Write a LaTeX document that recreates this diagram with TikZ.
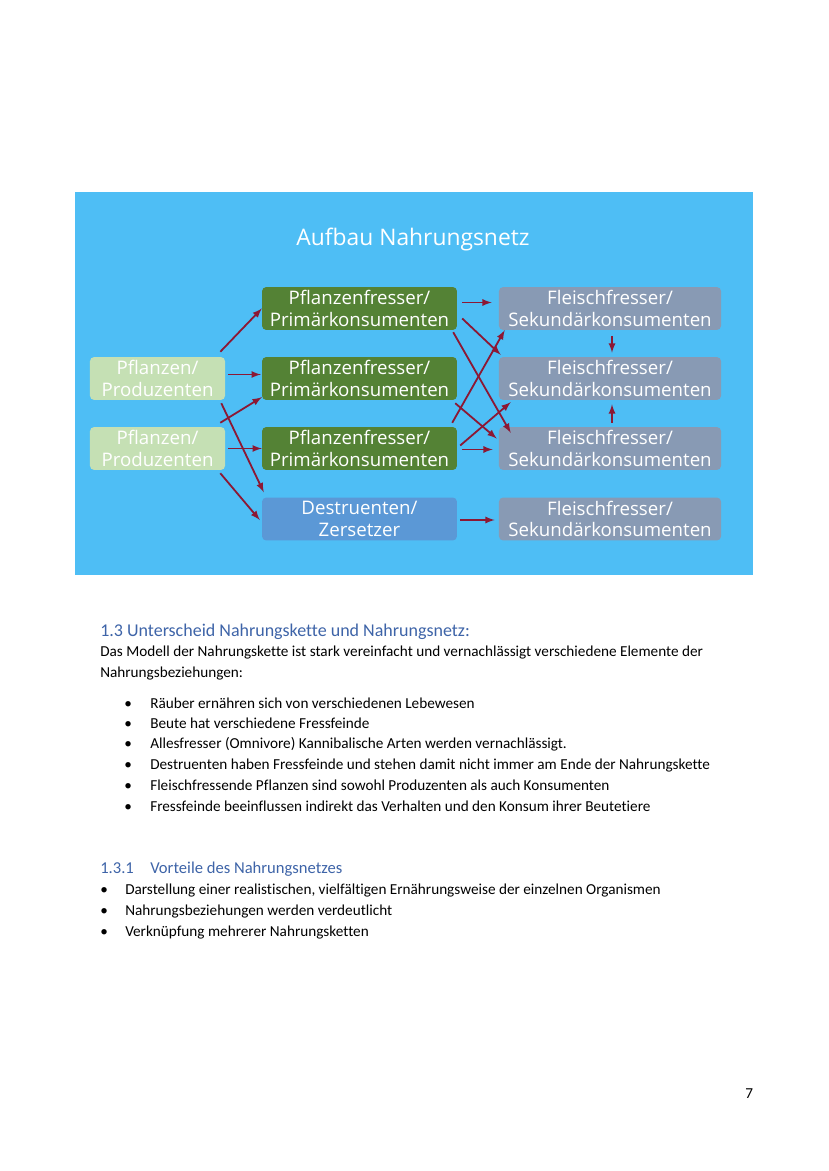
\documentclass[tikz,border=0pt]{standalone}
\usepackage{fontspec}
\setmainfont[Ligatures=NoCommon]{Carlito}
\newfontfamily\boxfont{Open Sans}
\usetikzlibrary{arrows, positioning, calc}

\definecolor{skyback}{RGB}{78,190,245}
\definecolor{producer}{RGB}{197,224,180}
\definecolor{herbivore}{RGB}{84,130,53}
\definecolor{decomposer}{RGB}{91,152,214}
\definecolor{carnivore}{RGB}{136,154,180}
\definecolor{feedarrow}{RGB}{140,24,52}
\definecolor{headblue}{RGB}{62,100,168}

\begin{document}
\begin{tikzpicture}[x=0.254mm, y=-0.254mm,
    foodbox/.style={rounded corners=3pt, inner sep=0pt, minimum height=10.9mm,
      align=center, text=white, font=\boxfont\fontsize{13.5}{15.6}\selectfont},
    feed/.style={->, >=latex, draw=feedarrow, line width=1.3pt},
    bodytext/.style={anchor=base west, inner sep=0pt, font=\fontsize{11}{13}\selectfont}]
    % page and frame
    \useasboundingbox (0,0) rectangle (828,1171);
    \fill[white] (0,0) rectangle (828,1171);
    \fill[skyback] (75,192) rectangle (753,575);
    \node[text=white, font=\boxfont\fontsize{16.5}{19}\selectfont] (title) at (413,240) {Aufbau Nahrungsnetz};

    % columns and rows
    \def\colP{157.5}
    \def\colH{359.5}
    \def\colC{610}
    \def\rowA{308.5}
    \def\rowB{378.5}
    \def\rowC{448.5}
    \def\rowD{519}

    % producers
    \node[foodbox, fill=producer, minimum width=34.3mm] (p1) at (\colP,\rowB) {Pflanzen/\\Produzenten};
    \node[foodbox, fill=producer, minimum width=34.3mm] (p2) at (\colP,\rowC) {Pflanzen/\\Produzenten};
    % primary consumers and decomposers
    \node[foodbox, fill=herbivore, minimum width=49.5mm] (h1) at (\colH,\rowA) {Pflanzenfresser/\\Primärkonsumenten};
    \node[foodbox, fill=herbivore, minimum width=49.5mm] (h2) at (\colH,\rowB) {Pflanzenfresser/\\Primärkonsumenten};
    \node[foodbox, fill=herbivore, minimum width=49.5mm] (h3) at (\colH,\rowC) {Pflanzenfresser/\\Primärkonsumenten};
    \node[foodbox, fill=decomposer, minimum width=49.5mm] (d) at (\colH,\rowD) {Destruenten/\\Zersetzer};
    % secondary consumers
    \node[foodbox, fill=carnivore, minimum width=56.4mm] (c1) at (\colC,\rowA) {Fleischfresser/\\Sekundärkonsumenten};
    \node[foodbox, fill=carnivore, minimum width=56.4mm] (c2) at (\colC,\rowB) {Fleischfresser/\\Sekundärkonsumenten};
    \node[foodbox, fill=carnivore, minimum width=56.4mm] (c3) at (\colC,\rowC) {Fleischfresser/\\Sekundärkonsumenten};
    \node[foodbox, fill=carnivore, minimum width=56.4mm] (c4) at (\colC,\rowD) {Fleischfresser/\\Sekundärkonsumenten};

    % producers -> herbivores / decomposers
    \draw[feed] ($(p1.north east)+(-5,-5)$) -- (h1.west);
    \draw[feed] ($(p1.east)+(3,-4)$) -- ($(h2.west)+(-1,-4)$);
    \draw[feed] ($(p2.north east)+(-5,-4)$) -- ($(h2.south west)+(0,-3)$);
    \draw[feed] ($(p1.south east)+(-4,3)$) -- ($(d.north west)+(2,-5)$);
    \draw[feed] ($(p2.east)+(3,0)$) -- (h3.west);
    \draw[feed] ($(p2.south east)+(-5,3)$) -- ($(d.west)+(-2,1)$);
    % herbivores -> carnivores
    \draw[feed] ($(h1.east)+(5,-6)$) -- ($(c1.west)+(-7,-6)$);
    \draw[feed] ($(h1.east)+(5,10)$) -- ($(c2.north west)+(2,-2)$);
    \draw[feed] ($(h1.south east)+(-4,2)$) -- ($(c3.north west)+(12,6)$);
    \draw[feed] ($(h2.south east)+(-2,3)$) -- ($(c3.west)+(-2,-10)$);
    \draw[feed] ($(h3.north east)+(-5,-4)$) -- ($(c1.south west)+(6,0)$);
    \draw[feed] ($(h3.east)+(3,-3)$) -- ($(c2.south west)+(12,2)$);
    \draw[feed] ($(h3.east)+(5,1)$) -- ($(c3.west)+(-6,1)$);
    \draw[feed] ($(d.east)+(3,1)$) -- ($(c4.west)+(-4,1)$);
    % carnivores among themselves
    \draw[feed, shorten <=4pt, shorten >=3pt] ($(c1.south)+(2,0)$) -- ($(c2.north)+(2,0)$);
    \draw[feed, shorten <=3pt, shorten >=3pt] ($(c3.north)+(2,0)$) -- ($(c2.south)+(2,0)$);

    % text below the figure
    \node[bodytext, text=headblue, font=\fontsize{13}{15}\selectfont] (head) at (100,636) {1.3 Unterscheid Nahrungskette und Nahrungsnetz:};
    \node[bodytext] (intro1) at (100,656) {Das Modell der Nahrungskette ist stark vereinfacht und vernachlässigt verschiedene Elemente der};
    \node[bodytext] (intro2) at (100,677) {Nahrungsbeziehungen:};
    \node[bodytext] (item1) at (150,708) {\llap{\makebox[6.55mm][l]{•}}Räuber ernähren sich von verschiedenen Lebewesen};
    \node[bodytext] (item2) at (150,728) {\llap{\makebox[6.55mm][l]{•}}Beute hat verschiedene Fressfeinde};
    \node[bodytext] (item3) at (150,748) {\llap{\makebox[6.55mm][l]{•}}Allesfresser (Omnivore) Kannibalische Arten werden vernachlässigt.};
    \node[bodytext] (item4) at (150,769) {\llap{\makebox[6.55mm][l]{•}}Destruenten haben Fressfeinde und stehen damit nicht immer am Ende der Nahrungskette};
    \node[bodytext] (item5) at (150,790) {\llap{\makebox[6.55mm][l]{•}}Fleischfressende Pflanzen sind sowohl Produzenten als auch Konsumenten};
    \node[bodytext] (item6) at (150,811) {\llap{\makebox[6.55mm][l]{•}}Fressfeinde beeinflussen indirekt das Verhalten und den Konsum ihrer Beutetiere};

    \node[bodytext, text=headblue, font=\fontsize{12}{14}\selectfont] (subhead) at (100,873) {\makebox[12.7mm][l]{1.3.1}Vorteile des Nahrungsnetzes};
    \node[bodytext] (plus1) at (125,894) {\llap{\makebox[6.3mm][l]{•}}Darstellung einer realistischen, vielfältigen Ernährungsweise der einzelnen Organismen};
    \node[bodytext] (plus2) at (125,915) {\llap{\makebox[6.3mm][l]{•}}Nahrungsbeziehungen werden verdeutlicht};
    \node[bodytext] (plus3) at (125,936) {\llap{\makebox[6.3mm][l]{•}}Verknüpfung mehrerer Nahrungsketten};

    \node[bodytext] (pagenum) at (745,1098) {7};
\end{tikzpicture}
\end{document}
